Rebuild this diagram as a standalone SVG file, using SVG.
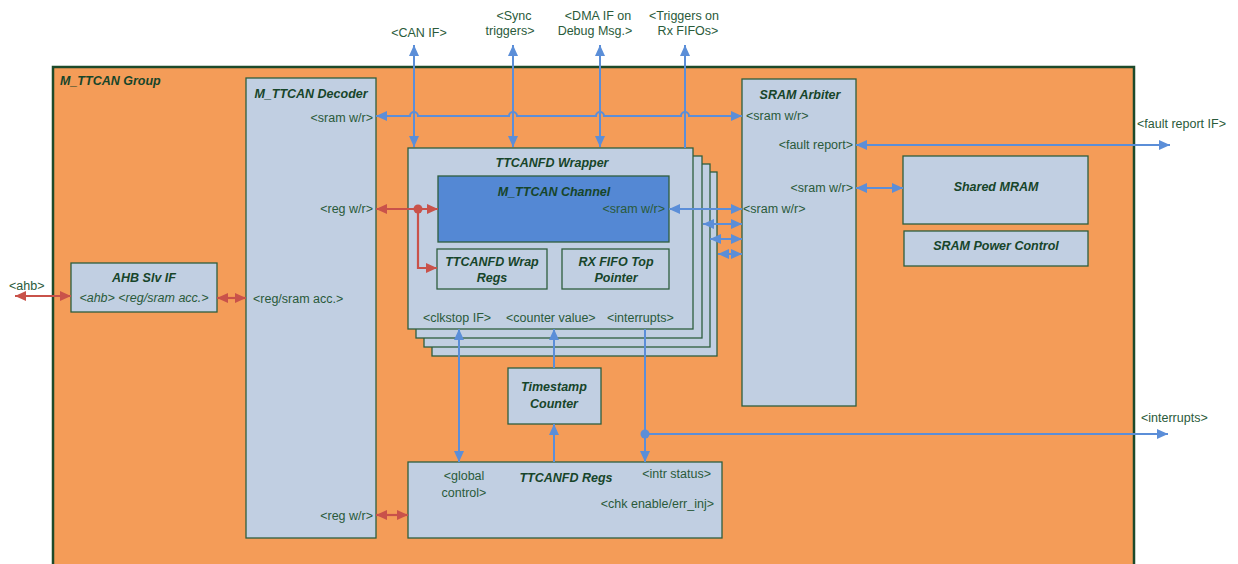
<svg xmlns="http://www.w3.org/2000/svg" width="1238" height="564" viewBox="0 0 1238 564">
<defs>
<marker id="ab" markerUnits="userSpaceOnUse" markerWidth="11" markerHeight="10" refX="11" refY="5" orient="auto-start-reverse"><path d="M0,0 L11,5 L0,10 z" fill="#5b8ed8"/></marker>
<marker id="ar" markerUnits="userSpaceOnUse" markerWidth="11" markerHeight="10" refX="11" refY="5" orient="auto-start-reverse"><path d="M0,0 L11,5 L0,10 z" fill="#c9524a"/></marker>
<style>
.box{fill:#c1cfe2;stroke:#2e5e3e;stroke-width:1.3}
.t{font-family:"Liberation Sans",Arial,sans-serif;font-weight:bold;font-style:italic;font-size:12.5px;fill:#17452a}
.l{font-family:"Liberation Sans",Arial,sans-serif;font-size:12.5px;fill:#2a5a3a}
.li{font-family:"Liberation Sans",Arial,sans-serif;font-size:12.5px;font-style:italic;fill:#2a5a3a}
.bl{fill:none;stroke:#5b8ed8;stroke-width:2}
.rl{fill:none;stroke:#c9524a;stroke-width:2.2}
</style>
</defs>
<rect width="1238" height="564" fill="#ffffff"/>
<g id="group">
<rect x="53" y="67" width="1081" height="510" fill="#f49c58" stroke="#1d4a2a" stroke-width="2.5"/>
<text class="t" x="60" y="85">M_TTCAN Group</text>
</g>
<g id="decoder">
<rect class="box" x="246" y="78" width="130" height="460"/>
<text class="t" x="311" y="98" text-anchor="middle">M_TTCAN Decoder</text>
<text class="l" x="373" y="122" text-anchor="end">&lt;sram w/r&gt;</text>
<text class="l" x="373" y="213" text-anchor="end">&lt;reg w/r&gt;</text>
<text class="l" x="253" y="303">&lt;reg/sram acc.&gt;</text>
<text class="l" x="373" y="520" text-anchor="end">&lt;reg w/r&gt;</text>
</g>
<g id="ahb">
<rect class="box" x="71" y="263" width="146" height="49"/>
<text class="t" x="144" y="282" text-anchor="middle">AHB Slv IF</text>
<text class="li" x="144" y="302" text-anchor="middle">&lt;ahb&gt; &lt;reg/sram acc.&gt;</text>
<text class="l" x="9" y="290">&lt;ahb&gt;</text>
</g>
<g id="wrapper">
<rect class="box" x="432" y="172" width="285" height="184"/>
<rect class="box" x="424" y="164" width="286" height="183"/>
<rect class="box" x="416" y="156" width="286" height="182"/>
<rect class="box" x="408" y="148" width="285" height="181"/>
<text class="t" x="552" y="167" text-anchor="middle">TTCANFD Wrapper</text>
<text class="l" x="423" y="322">&lt;clkstop IF&gt;</text>
<text class="l" x="506" y="322">&lt;counter value&gt;</text>
<text class="l" x="607" y="322">&lt;interrupts&gt;</text>
</g>
<g id="channel">
<rect x="438" y="176" width="231" height="66" fill="#5488d4" stroke="#2e5e3e" stroke-width="1.3"/>
<text class="t" x="554" y="196" text-anchor="middle">M_TTCAN Channel</text>
<text class="l" x="665" y="213" text-anchor="end">&lt;sram w/r&gt;</text>
</g>
<g id="wrapregs">
<rect class="box" x="437" y="249" width="110" height="40"/>
<text class="t" x="492" y="266" text-anchor="middle">TTCANFD Wrap</text>
<text class="t" x="492" y="282" text-anchor="middle">Regs</text>
</g>
<g id="rxfifo">
<rect class="box" x="562" y="249" width="107" height="40"/>
<text class="t" x="616" y="266" text-anchor="middle">RX FIFO Top</text>
<text class="t" x="616" y="282" text-anchor="middle">Pointer</text>
</g>
<g id="arbiter">
<rect class="box" x="742" y="79" width="114" height="327"/>
<text class="t" x="800" y="99" text-anchor="middle">SRAM Arbiter</text>
<text class="l" x="746" y="120">&lt;sram w/r&gt;</text>
<text class="l" x="853" y="149" text-anchor="end">&lt;fault report&gt;</text>
<text class="l" x="853" y="192" text-anchor="end">&lt;sram w/r&gt;</text>
<text class="l" x="743" y="213">&lt;sram w/r&gt;</text>
</g>
<g id="mram">
<rect class="box" x="903" y="156" width="185" height="68"/>
<text class="t" x="996" y="191" text-anchor="middle">Shared MRAM</text>
</g>
<g id="power">
<rect class="box" x="904" y="231" width="184" height="35"/>
<text class="t" x="996" y="250" text-anchor="middle">SRAM Power Control</text>
</g>
<g id="timestamp">
<rect class="box" x="508" y="368" width="93" height="56"/>
<text class="t" x="554" y="391" text-anchor="middle">Timestamp</text>
<text class="t" x="554" y="408" text-anchor="middle">Counter</text>
</g>
<g id="regs">
<rect class="box" x="408" y="462" width="314" height="76"/>
<text class="t" x="566" y="482" text-anchor="middle">TTCANFD Regs</text>
<text class="l" x="464" y="480" text-anchor="middle">&lt;global</text>
<text class="l" x="464" y="497" text-anchor="middle">control&gt;</text>
<text class="l" x="711" y="478" text-anchor="end">&lt;intr status&gt;</text>
<text class="l" x="714" y="508" text-anchor="end">&lt;chk enable/err_inj&gt;</text>
</g>
<g id="ext-labels">
<text class="l" x="419" y="37" text-anchor="middle">&lt;CAN IF&gt;</text>
<text class="l" x="514" y="20" text-anchor="middle">&lt;Sync</text>
<text class="l" x="510" y="35" text-anchor="middle">triggers&gt;</text>
<text class="l" x="598" y="20" text-anchor="middle">&lt;DMA IF on</text>
<text class="l" x="595" y="35" text-anchor="middle">Debug Msg.&gt;</text>
<text class="l" x="684" y="20" text-anchor="middle">&lt;Triggers on</text>
<text class="l" x="688" y="35" text-anchor="middle">Rx FIFOs&gt;</text>
<text class="l" x="1137" y="128">&lt;fault report IF&gt;</text>
<text class="l" x="1141" y="422">&lt;interrupts&gt;</text>
</g>
<g id="connectors">
<path class="bl" d="M376,116 H410 a4,4 0 0 1 8,0 H509 a4,4 0 0 1 8,0 H596 a4,4 0 0 1 8,0 H681 a4,4 0 0 1 8,0 H742" marker-start="url(#ab)" marker-end="url(#ab)"/>
<path class="bl" d="M414,45 V147" marker-start="url(#ab)" marker-end="url(#ab)"/>
<path class="bl" d="M513,45 V147" marker-start="url(#ab)" marker-end="url(#ab)"/>
<path class="bl" d="M600,45 V147" marker-start="url(#ab)" marker-end="url(#ab)"/>
<path class="bl" d="M685,45 V148" marker-start="url(#ab)"/>
<path class="bl" d="M856,145 H1170" marker-start="url(#ab)" marker-end="url(#ab)"/>
<path class="bl" d="M856,188 H903" marker-start="url(#ab)" marker-end="url(#ab)"/>
<path class="bl" d="M669,209 H742" marker-start="url(#ab)" marker-end="url(#ab)"/>
<path class="bl" d="M703,224 H742" marker-start="url(#ab)" marker-end="url(#ab)"/>
<path class="bl" d="M710,239 H742" marker-start="url(#ab)" marker-end="url(#ab)"/>
<path class="bl" d="M718,254 H742" marker-start="url(#ab)" marker-end="url(#ab)"/>
<path class="bl" d="M459,329 V462" marker-start="url(#ab)" marker-end="url(#ab)"/>
<path class="bl" d="M554,368 V329" marker-end="url(#ab)"/>
<path class="bl" d="M554,462 V424" marker-end="url(#ab)"/>
<path class="bl" d="M645,329 V462" marker-end="url(#ab)"/>
<path class="bl" d="M645,434 H1168" marker-end="url(#ab)"/>
<circle cx="645" cy="434" r="4.5" fill="#5b8ed8"/>
<path class="rl" d="M376,209 H438" marker-start="url(#ar)" marker-end="url(#ar)"/>
<path class="rl" d="M418,209 V268 H437" marker-end="url(#ar)"/>
<circle cx="418" cy="209" r="4.5" fill="#c9524a"/>
<path class="rl" d="M15,296 H71" marker-start="url(#ar)" marker-end="url(#ar)"/>
<path class="rl" d="M217,298 H246" marker-start="url(#ar)" marker-end="url(#ar)"/>
<path class="rl" d="M376,515 H408" marker-start="url(#ar)" marker-end="url(#ar)"/>
</g>
</svg>
